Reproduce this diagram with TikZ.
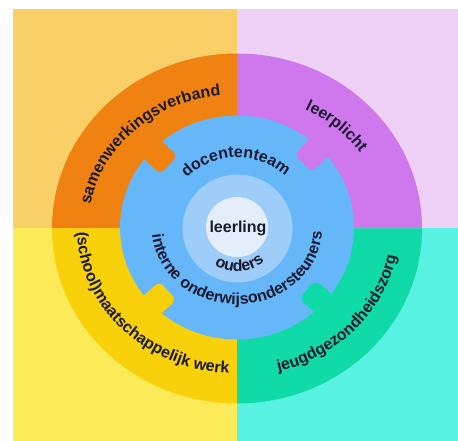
\documentclass[tikz,border=0pt]{standalone}
\usepackage{fontspec}
\setmainfont{Liberation Sans}
\usetikzlibrary{decorations.text}
\definecolor{bgTL}{HTML}{F9D068}
\definecolor{bgTR}{HTML}{EFD0F7}
\definecolor{bgBL}{HTML}{FCEB58}
\definecolor{bgBR}{HTML}{58F2E2}
\definecolor{ringTL}{HTML}{F08212}
\definecolor{ringTR}{HTML}{CF78EE}
\definecolor{ringBL}{HTML}{F9D10A}
\definecolor{ringBR}{HTML}{10DAA8}
\definecolor{blueR}{HTML}{66B6FA}
\definecolor{lightR}{HTML}{9FCDF9}
\definecolor{coreR}{HTML}{E4EEFB}
\definecolor{txt}{HTML}{1A1A2E}
\newcommand{\lblfont}{\fontsize{16}{19}\selectfont\bfseries}
\tikzset{
  curvetext/.style={decorate, decoration={text along path, text align=center,
     text color=txt, text={|\lblfont|#1}}},
  tab/.style={rounded corners=6pt}
}
\begin{document}
\begin{tikzpicture}[x=1pt,y=1pt]
\useasboundingbox (0,0) rectangle (458,441);
\fill[white] (0,0) rectangle (458,441);
% background quadrants
\fill[bgTL] (13,212.5) rectangle (237,432);
\fill[bgTR] (237,212.5) rectangle (458,432);
\fill[bgBL] (13,0) rectangle (237,212.5);
\fill[bgBR] (237,0) rectangle (458,212.5);
\begin{scope}[shift={(237,212.5)}]
  % outer ring quadrants
  \fill[ringTR] (0,0) -- (0:185pt and 175pt) arc[start angle=0, end angle=90, x radius=185pt, y radius=175pt] -- cycle;
  \fill[ringTL] (0,0) -- (90:185pt and 175pt) arc[start angle=90, end angle=180, x radius=185pt, y radius=175pt] -- cycle;
  \fill[ringBL] (0,0) -- (180:185pt and 175pt) arc[start angle=180, end angle=270, x radius=185pt, y radius=175pt] -- cycle;
  \fill[ringBR] (0,0) -- (270:185pt and 175pt) arc[start angle=270, end angle=360, x radius=185pt, y radius=175pt] -- cycle;
  % blue ring
  \fill[blueR] (0,1) ellipse[x radius=117pt, y radius=112pt];
  % puzzle tabs
  \foreach \a/\c in {137/ringTL, 44.6/ringTR, 222/ringBL, 319/ringBR}{
    \fill[\c, tab, rotate=\a] (93,-12.5) rectangle (126,12.5);
  }
  % inner circles
  \fill[lightR] (0.5,0) ellipse[x radius=55pt, y radius=54pt];
  \fill[coreR] (0,1.5) ellipse[x radius=31pt, y radius=30pt];
  \node[text=txt, font=\lblfont] (leerling) at (1,0) {leerling};
  % outer ring labels
  \path[curvetext=samenwerkingsverband] (179:149pt and 134pt) arc[start angle=179, end angle=88, x radius=149pt, y radius=134pt];
  \path[curvetext=leerplicht] (78:149pt and 134pt) arc[start angle=78, end angle=18, x radius=149pt, y radius=134pt];
  \path[curvetext={(school)maatschappelijk werk}] (174:160pt and 145pt) arc[start angle=174, end angle=274, x radius=160pt, y radius=145pt];
  \path[curvetext=jeugdgezondheidszorg] (275:162pt and 148pt) arc[start angle=275, end angle=360, x radius=162pt, y radius=148pt];
  % blue ring labels
  \path[curvetext=docententeam] (160:72pt and 71pt) arc[start angle=160, end angle=22, x radius=72pt, y radius=71pt];
  \path[curvetext={interne onderwijsondersteuners}] (172:85pt and 76pt) arc[start angle=172, end angle=370, x radius=85pt, y radius=76pt];
  % light ring label
  \path[curvetext=ouders] (214:43pt and 43pt) arc[start angle=214, end angle=334, x radius=43pt, y radius=43pt];
\end{scope}
\end{tikzpicture}
\end{document}
